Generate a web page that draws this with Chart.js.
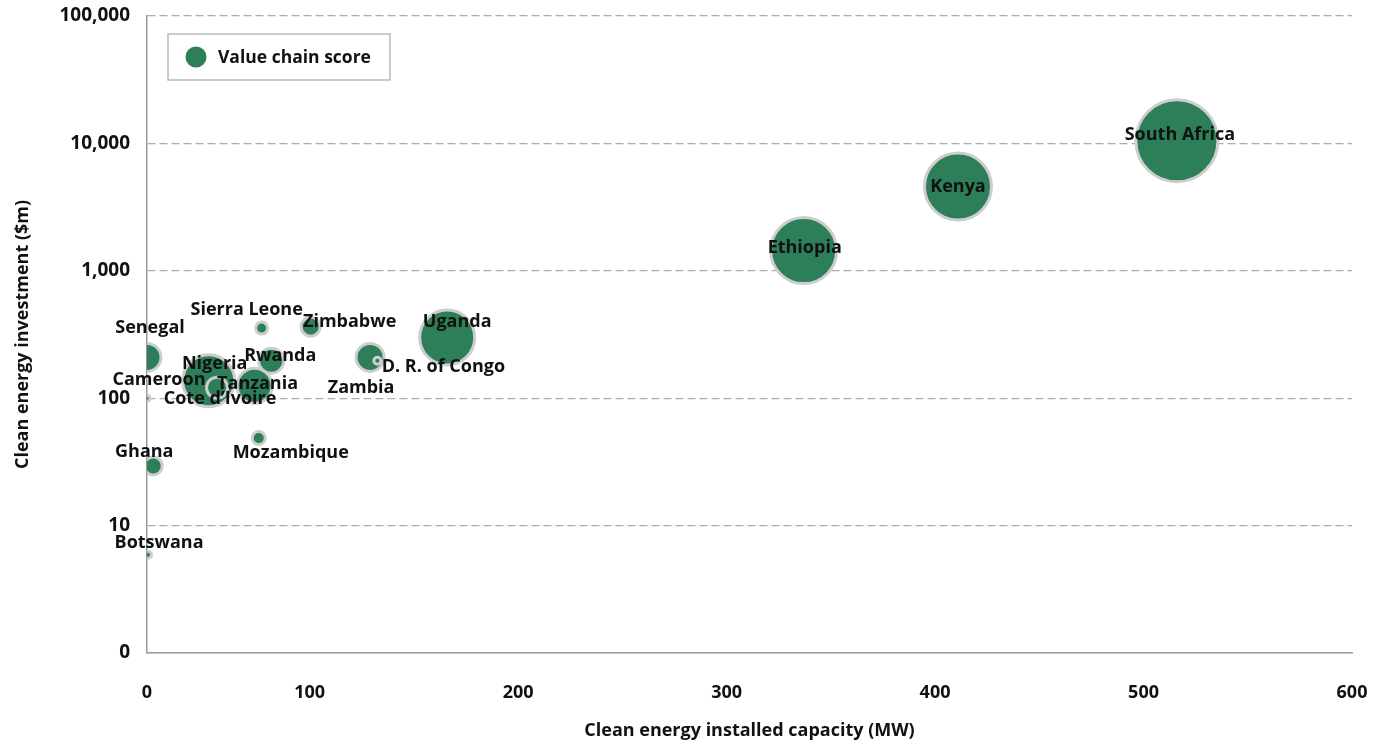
<!DOCTYPE html>
<html>
<head>
<meta charset="utf-8">
<script src="https://cdn.jsdelivr.net/npm/chart.js@4.4.1/dist/chart.umd.min.js"></script>
<style>
  html, body { margin: 0; padding: 0; background: #fff; }
  #wrap { width: 1373px; height: 742px; }
</style>
</head>
<body>
<div id="wrap"><canvas id="bubbleChart"></canvas></div>
<script>
// Data
const countries = ['South Africa', 'Kenya', 'Ethiopia', 'Uganda', 'Nigeria', 'Zambia', 'Senegal',
  'Tanzania', 'Rwanda', 'Cote d\u2019Ivoire', 'Zimbabwe', 'Ghana', 'Mozambique', 'Sierra Leone',
  'Botswana', 'Cameroon', 'D. R. of Congo'];
const capacityMW = [516, 411, 337, 166, 51.6, 129, 22, 73.6, 81.6, 55.6, 100.5, 25, 75.6, 77, 22.5, 22, 132.5];
const investmentM = [10500, 4580, 1440, 300, 137, 209, 209, 125, 197, 121, 364, 29.4, 48.6, 355, 5.9, 100, 197];
const valueChainScore = [41, 33.5, 33, 27.5, 26, 14, 14, 17.5, 12.5, 10.5, 9.5, 9, 6.5, 6, 3.5, 3, 3.5];

const xTickValues = [22, 100, 200, 300, 400, 500, 600];
const xTickLabels = ['0', '100', '200', '300', '400', '500', '600'];
const yTickValues = [1, 10, 100, 1000, 10000, 100000];
const yTickLabels = ['0', '10', '100', '1,000', '10,000', '100,000'];

// label placement relative to the bubble centre (px)
const labelOffsets = {
  'South Africa': [3, -6], 'Kenya': [0, 0], 'Ethiopia': [1, -3], 'Uganda': [10, -16],
  'Zimbabwe': [39, -5], 'Sierra Leone': [-15, -18], 'Senegal': [3, -30], 'Rwanda': [9, -5],
  'Nigeria': [6, -17], 'Cameroon': [12, -18], 'Tanzania': [3, -2], 'Cote d\u2019Ivoire': [3, 11],
  'Zambia': [-9, 30], 'D. R. of Congo': [66, 6], 'Mozambique': [32, 15], 'Ghana': [-9, -14],
  'Botswana': [11, -12]
};

const GREEN = '#2c7f58';
const FONT = 'Open Sans';

const bubbles = countries.map((c, i) => ({ x: capacityMW[i], y: investmentM[i], r: valueChainScore[i] }));

const countryLabels = {
  id: 'countryLabels',
  afterDatasetsDraw(chart) {
    const ctx = chart.ctx;
    const meta = chart.getDatasetMeta(0);
    ctx.save();
    ctx.font = 'bold 18px "' + FONT + '"';
    ctx.fillStyle = '#111';
    ctx.textAlign = 'center';
    ctx.textBaseline = 'middle';
    meta.data.forEach((pt, i) => {
      const off = labelOffsets[countries[i]] || [0, 0];
      ctx.fillText(countries[i], pt.x + off[0], pt.y + off[1]);
    });
    ctx.restore();
  }
};

// legend box drawn inside the plot, top-left
const boxLegend = {
  id: 'boxLegend',
  afterDraw(chart) {
    const ctx = chart.ctx;
    const a = chart.chartArea;
    const x = a.left + 21, y = a.top + 18, w = 222, h = 46;
    ctx.save();
    ctx.fillStyle = '#fff';
    ctx.fillRect(x, y, w, h);
    ctx.strokeStyle = '#b9b9b9';
    ctx.lineWidth = 1.5;
    ctx.strokeRect(x, y, w, h);
    ctx.beginPath();
    ctx.arc(x + 28, y + h / 2, 10.5, 0, Math.PI * 2);
    ctx.fillStyle = GREEN;
    ctx.fill();
    ctx.font = 'bold 17.5px "' + FONT + '"';
    ctx.fillStyle = '#111';
    ctx.textBaseline = 'middle';
    ctx.fillText(chart.data.datasets[0].label, x + 50, y + h / 2 + 1);
    ctx.restore();
  }
};

const ctx = document.getElementById('bubbleChart').getContext('2d');
new Chart(ctx, {
  type: 'bubble',
  data: {
    datasets: [{
      label: 'Value chain score',
      data: bubbles,
      backgroundColor: GREEN,
      borderColor: '#cdcdcd',
      borderWidth: 3
    }]
  },
  options: {
    responsive: true,
    maintainAspectRatio: false,
    animation: false,
    layout: { autoPadding: false, padding: { top: 16, right: 21, bottom: 0, left: 0 } },
    plugins: {
      legend: { display: false },
      tooltip: { enabled: false }
    },
    scales: {
      x: {
        type: 'linear',
        min: 22,
        max: 600,
        afterBuildTicks: s => { s.ticks = xTickValues.map(v => ({ value: v })); },
        afterFit: s => { s.height = 89; s.paddingLeft = 0; s.paddingRight = 0; },
        grid: { display: false, drawTicks: false },
        border: { display: true, color: '#9a9a9a', width: 1.5 },
        ticks: {
          padding: 29,
          color: '#111',
          font: { family: FONT, size: 18, weight: 'bold' },
          callback: v => xTickLabels[xTickValues.indexOf(v)]
        },
        title: {
          display: true,
          text: 'Clean energy installed capacity (MW)',
          color: '#111',
          font: { family: FONT, size: 18, weight: 'bold' },
          padding: { top: 0, bottom: 0 }
        }
      },
      y: {
        type: 'logarithmic',
        min: 1,
        max: 100000,
        afterBuildTicks: s => { s.ticks = yTickValues.map(v => ({ value: v })); },
        afterFit: s => { s.width = 147; s.paddingTop = 0; s.paddingBottom = 0; },
        grid: {
          drawTicks: false,
          color: '#adadad',
          lineWidth: 1.3
        },
        border: { display: true, color: '#9a9a9a', width: 1.5, dash: [8, 4] },
        ticks: {
          padding: 17,
          color: '#111',
          font: { family: FONT, size: 19, weight: 'bold' },
          callback: v => yTickLabels[yTickValues.indexOf(v)]
        },
        title: {
          display: true,
          text: 'Clean energy investment ($m)',
          color: '#111',
          font: { family: FONT, size: 18, weight: 'bold' },
          padding: { top: 12, bottom: 0 }
        }
      }
    }
  },
  plugins: [countryLabels, boxLegend]
});
</script>
</body>
</html>
